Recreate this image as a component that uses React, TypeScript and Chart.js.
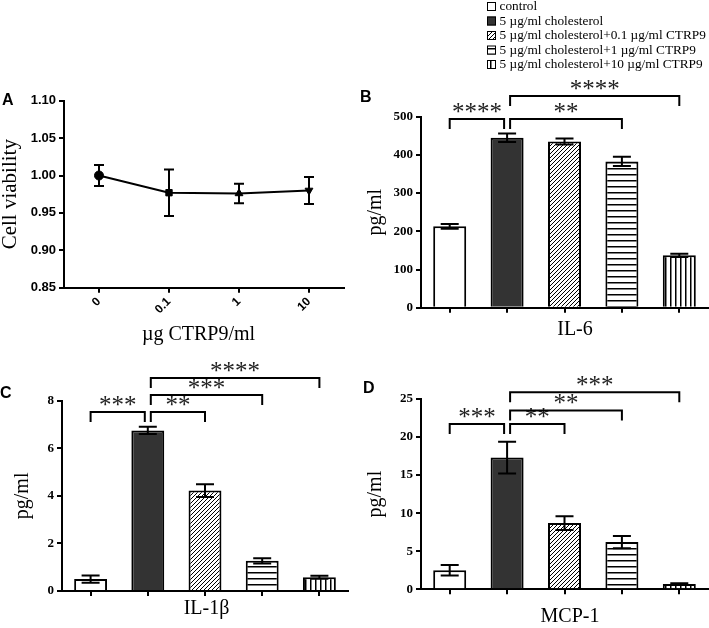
import React, { useEffect, useRef } from "react";
import { Chart, registerables } from "chart.js";

Chart.register(...registerables);

const SANS = '"Liberation Sans", Arial, sans-serif';
const SERIF = '"Liberation Serif", "Times New Roman", serif';

// ---------- Panel A data ----------
const doseLabels = ["0", "0.1", "1", "10"];
const viability = [1.0, 0.977, 0.976, 0.98];
const viabilityErr = [0.014, 0.031, 0.013, 0.018];
const viabilityMarkers = ["circle", "rect", "triangle", "triangle"];
const viabilityMarkerRotation = [0, 0, 0, 180];

// ---------- Groups (B, C, D) ----------
const groupNames = [
  "control",
  "5 µg/ml cholesterol",
  "5 µg/ml cholesterol+0.1 µg/ml CTRP9",
  "5 µg/ml cholesterol+1 µg/ml CTRP9",
  "5 µg/ml cholesterol+10 µg/ml CTRP9",
];
const groupFills = ["white", "dark", "diag", "horiz", "vert"];

const il6 = [213, 445, 435, 383, 137];
const il6Err = [6, 11, 8, 12, 4];
const il1b = [0.5, 6.75, 4.22, 1.27, 0.58];
const il1bErr = [0.15, 0.15, 0.27, 0.11, 0.06];
const mcp1 = [2.5, 17.3, 8.7, 6.2, 0.7];
const mcp1Err = [0.7, 2.1, 0.9, 0.8, 0.1];

// [from group, to group, label, bracket height in data units]
type Bracket = [number, number, string, number];
const il6Brackets: Bracket[] = [
  [0, 1, "****", 494],
  [1, 3, "**", 494],
  [1, 4, "****", 554],
];
const il1bBrackets: Bracket[] = [
  [0, 1, "***", 7.52],
  [1, 2, "**", 7.52],
  [1, 3, "***", 8.24],
  [1, 4, "****", 8.95],
];
const mcp1Brackets: Bracket[] = [
  [0, 1, "***", 21.7],
  [1, 2, "**", 21.7],
  [1, 3, "**", 23.5],
  [1, 4, "***", 25.9],
];

function makeFill(kind: string, ctx: CanvasRenderingContext2D): any {
  if (kind === "white") return "#ffffff";
  if (kind === "dark") return "#333333";
  const size = kind === "diag" ? 4 : kind === "horiz" ? 6 : 5;
  const c = document.createElement("canvas");
  c.width = size;
  c.height = size;
  const g = c.getContext("2d")!;
  g.fillStyle = "#fff";
  g.fillRect(0, 0, size, size);
  g.fillStyle = "#000";
  g.strokeStyle = "#000";
  if (kind === "diag") {
    g.lineWidth = 1;
    g.beginPath();
    for (let k = -1; k <= 1; k++) {
      g.moveTo(k * size - 1, size + 1);
      g.lineTo(k * size + size + 1, -1);
    }
    g.stroke();
  } else if (kind === "horiz") {
    g.fillRect(0, 0, size, 1.5);
  } else {
    g.fillRect(0, 0, 1.5, size);
  }
  return ctx.createPattern(c, "repeat");
}

type Deco = {
  letter: string;
  letterX: number;
  letterY: number;
  xTitle: string;
  xTitleDx: number;
  xTitleY: number;
  yTitle: string;
  yTitleX: number;
  yTitleSize: number;
};

function drawDeco(chart: any, d: Deco) {
  const ctx: CanvasRenderingContext2D = chart.ctx;
  const a = chart.chartArea;
  ctx.save();
  ctx.fillStyle = "#000";
  ctx.font = `bold 16px ${SANS}`;
  ctx.textAlign = "left";
  ctx.textBaseline = "middle";
  ctx.fillText(d.letter, d.letterX, d.letterY);

  ctx.font = `20px ${SERIF}`;
  ctx.textAlign = "center";
  ctx.textBaseline = "middle";
  ctx.fillText(d.xTitle, (a.left + a.right) / 2 + d.xTitleDx, d.xTitleY);

  ctx.font = `${d.yTitleSize}px ${SERIF}`;
  ctx.translate(d.yTitleX, (a.top + a.bottom) / 2);
  ctx.rotate(-Math.PI / 2);
  ctx.fillText(d.yTitle, 0, 0);
  ctx.restore();
}

function drawErrors(chart: any, values: number[], errs: number[], cap: number) {
  const ctx: CanvasRenderingContext2D = chart.ctx;
  const meta = chart.getDatasetMeta(0);
  const ys = chart.scales.y;
  ctx.save();
  ctx.strokeStyle = "#000";
  ctx.lineWidth = 2;
  meta.data.forEach((el: any, i: number) => {
    const x = el.x;
    const t = ys.getPixelForValue(values[i] + errs[i]);
    const b = ys.getPixelForValue(values[i] - errs[i]);
    ctx.beginPath();
    ctx.moveTo(x, t);
    ctx.lineTo(x, b);
    ctx.moveTo(x - cap, t);
    ctx.lineTo(x + cap, t);
    ctx.moveTo(x - cap, b);
    ctx.lineTo(x + cap, b);
    ctx.stroke();
  });
  ctx.restore();
}

function drawBrackets(chart: any, brackets: Bracket[]) {
  const ctx: CanvasRenderingContext2D = chart.ctx;
  const meta = chart.getDatasetMeta(0);
  const ys = chart.scales.y;
  ctx.save();
  ctx.strokeStyle = "#000";
  ctx.fillStyle = "#222";
  ctx.lineWidth = 2;
  brackets.forEach(([from, to, label, level]) => {
    const y = ys.getPixelForValue(level);
    const x1 = meta.data[from].x + (from === 1 ? 3 : 0);
    const x2 = meta.data[to].x - (to === 1 ? 3 : 0);
    ctx.beginPath();
    ctx.moveTo(x1, y + 10);
    ctx.lineTo(x1, y);
    ctx.lineTo(x2, y);
    ctx.lineTo(x2, y + 10);
    ctx.stroke();
    ctx.font = `25px ${SERIF}`;
    ctx.textAlign = "center";
    ctx.textBaseline = "alphabetic";
    ctx.fillText(label, (x1 + x2) / 2, y + 1);
  });
  ctx.restore();
}

function drawLegend(chart: any, fills: any[]) {
  const ctx: CanvasRenderingContext2D = chart.ctx;
  ctx.save();
  ctx.font = `13.3px ${SERIF}`;
  ctx.textAlign = "left";
  ctx.textBaseline = "middle";
  groupNames.forEach((name, i) => {
    const cy = 6.5 + i * 14.5;
    ctx.fillStyle = fills[i];
    ctx.fillRect(127, cy - 4.5, 9, 9);
    ctx.strokeStyle = "#000";
    ctx.lineWidth = 1;
    ctx.strokeRect(127.5, cy - 4, 8, 8);
    ctx.fillStyle = "#000";
    ctx.fillText(name, 139.5, cy + 0.5);
  });
  ctx.restore();
}

function axisCommon(width: number) {
  return {
    grid: { drawOnChartArea: false, drawTicks: true, tickLength: 5, color: "#000", lineWidth: 2 },
    border: { display: true, color: "#000", width: 2 },
    afterFit: (s: any) => {
      s.width = width;
    },
  };
}

function barConfig(
  ctx: CanvasRenderingContext2D,
  values: number[],
  errs: number[],
  brackets: Bracket[],
  yMax: number,
  yStep: number,
  padTop: number,
  padRight: number,
  yWidth: number,
  xHeight: number,
  deco: Deco,
  legend: boolean
): any {
  const fills = groupFills.map((k) => makeFill(k, ctx));
  return {
    type: "bar",
    data: {
      labels: groupNames,
      datasets: [
        {
          data: values,
          backgroundColor: fills,
          borderColor: "#000",
          borderWidth: 2,
          barPercentage: 0.575,
          categoryPercentage: 1,
        },
      ],
    },
    options: {
      animation: false,
      responsive: false,
      maintainAspectRatio: false,
      layout: { padding: { top: padTop, right: padRight, left: 0, bottom: 0 } },
      plugins: { legend: { display: false }, tooltip: { enabled: false } },
      scales: {
        x: {
          offset: true,
          grid: { offset: false, drawOnChartArea: false, drawTicks: true, tickLength: 5, color: "#000", lineWidth: 2 },
          border: { display: true, color: "#000", width: 2 },
          ticks: { display: false },
          afterFit: (s: any) => {
            s.height = xHeight;
          },
        },
        y: {
          min: 0,
          max: yMax,
          ticks: {
            stepSize: yStep,
            font: { family: SERIF, weight: "bold", size: 13 },
            color: "#000",
            padding: 3,
          },
          ...axisCommon(yWidth),
        },
      },
    },
    plugins: [
      {
        id: "deco",
        afterDatasetsDraw(chart: any) {
          drawErrors(chart, values, errs, 9);
        },
        afterDraw(chart: any) {
          drawBrackets(chart, brackets);
          drawDeco(chart, deco);
          if (legend) drawLegend(chart, fills);
        },
      },
    ],
  };
}

function lineConfig(): any {
  const deco: Deco = {
    letter: "A",
    letterX: 2,
    letterY: 41,
    xTitle: "µg CTRP9/ml",
    xTitleDx: -5.5,
    xTitleY: 275,
    yTitle: "Cell viability",
    yTitleX: 10,
    yTitleSize: 21,
  };
  return {
    type: "line",
    data: {
      labels: doseLabels,
      datasets: [
        {
          data: viability,
          borderColor: "#000",
          borderWidth: 2,
          tension: 0,
          pointStyle: viabilityMarkers,
          pointRotation: viabilityMarkerRotation,
          pointRadius: 4.5,
          pointBackgroundColor: "#000",
          pointBorderColor: "#000",
          pointBorderWidth: 1,
        },
      ],
    },
    options: {
      animation: false,
      responsive: false,
      maintainAspectRatio: false,
      layout: { padding: { top: 40.7, right: 16, left: 0, bottom: 0 } },
      plugins: { legend: { display: false }, tooltip: { enabled: false } },
      scales: {
        x: {
          offset: true,
          grid: { offset: false, drawOnChartArea: false, drawTicks: true, tickLength: 5, color: "#000", lineWidth: 2 },
          border: { display: true, color: "#000", width: 2 },
          ticks: {
            minRotation: 45,
            maxRotation: 45,
            font: { family: SANS, weight: "bold", size: 12 },
            color: "#000",
            padding: 2,
          },
          afterFit: (s: any) => {
            s.height = 62.3;
          },
        },
        y: {
          min: 0.85,
          max: 1.1,
          ticks: {
            stepSize: 0.05,
            callback: (v: any) => Number(v).toFixed(2),
            font: { family: SANS, weight: "bold", size: 13 },
            color: "#000",
            padding: 3,
          },
          ...axisCommon(64),
        },
      },
    },
    plugins: [
      {
        id: "decoA",
        beforeDatasetsDraw(chart: any) {
          drawErrors(chart, viability, viabilityErr, 5);
        },
        afterDraw(chart: any) {
          drawDeco(chart, deco);
        },
      },
    ],
  };
}

function ChartCanvas(props: { left: number; top: number; width: number; height: number; make: (ctx: CanvasRenderingContext2D) => any }) {
  const ref = useRef<HTMLCanvasElement>(null);
  useEffect(() => {
    const canvas = ref.current!;
    const ctx = canvas.getContext("2d")!;
    const chart = new Chart(canvas, props.make(ctx));
    return () => chart.destroy();
  }, []);
  return (
    <canvas
      ref={ref}
      width={props.width}
      height={props.height}
      style={{ position: "absolute", left: props.left, top: props.top, width: props.width, height: props.height }}
    />
  );
}

export default function App() {
  useEffect(() => {
    document.body.style.margin = "0";
  }, []);
  return (
    <div style={{ position: "relative", width: 709, height: 628, background: "#fff", overflow: "hidden" }}>
      <ChartCanvas left={0} top={60} width={360} height={290} make={() => lineConfig()} />
      <ChartCanvas
        left={360}
        top={0}
        width={349}
        height={345}
        make={(ctx) =>
          barConfig(ctx, il6, il6Err, il6Brackets, 500, 100, 116.7, 1, 61, 37.3, {
            letter: "B",
            letterX: 0,
            letterY: 98,
            xTitle: "IL-6",
            xTitleDx: 10.5,
            xTitleY: 330,
            yTitle: "pg/ml",
            yTitleX: 15.7,
            yTitleSize: 20,
          }, true)
        }
      />
      <ChartCanvas
        left={0}
        top={350}
        width={360}
        height={278}
        make={(ctx) =>
          barConfig(ctx, il1b, il1bErr, il1bBrackets, 8, 2, 50.7, 12, 62, 37, {
            letter: "C",
            letterX: 0,
            letterY: 44,
            xTitle: "IL-1β",
            xTitleDx: 1.5,
            xTitleY: 259,
            yTitle: "pg/ml",
            yTitleX: 22.5,
            yTitleSize: 20,
          }, false)
        }
      />
      <ChartCanvas
        left={360}
        top={350}
        width={349}
        height={278}
        make={(ctx) =>
          barConfig(ctx, mcp1, mcp1Err, mcp1Brackets, 25, 5, 49, 1, 61, 38.7, {
            letter: "D",
            letterX: 3,
            letterY: 39,
            xTitle: "MCP-1",
            xTitleDx: 5.5,
            xTitleY: 267,
            yTitle: "pg/ml",
            yTitleX: 15.7,
            yTitleSize: 20,
          }, false)
        }
      />
    </div>
  );
}
